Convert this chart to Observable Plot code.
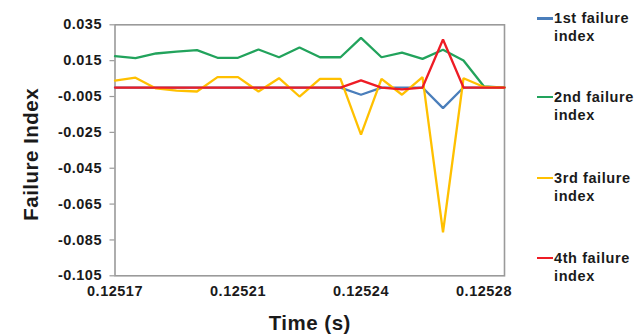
<!DOCTYPE html>
<html>
<head>
<meta charset="utf-8">
<script src="https://cdn.jsdelivr.net/npm/d3@7"></script>
<script src="https://cdn.jsdelivr.net/npm/@observablehq/plot@0.6"></script>
<style>
  html, body { margin: 0; padding: 0; background: #fff; }
  #wrap { position: relative; width: 637px; height: 334px; overflow: hidden; font-family: "Liberation Sans", Arial, sans-serif; }
  #wrap svg text { letter-spacing: 0.5px; }
  .leg { position: absolute; left: 537px; font-size: 14.5px; font-weight: bold; color: #1a1a1a; line-height: 18.4px; letter-spacing: 0.6px; }
  .leg .sw { position: absolute; left: 0; top: 8px; width: 16px; height: 2.5px; }
  .leg .tx { margin-left: 17px; white-space: nowrap; }
</style>
</head>
<body>
<div id="wrap"></div>
<script>
// Time (s) categories
const times = [0.1251700, 0.1251761, 0.1251822, 0.1251883, 0.1251944, 0.1252005, 0.1252066,
  0.1252127, 0.1252188, 0.1252249, 0.1252310, 0.1252371, 0.1252432, 0.1252493, 0.1252554,
  0.1252615, 0.1252676, 0.1252737, 0.1252798, 0.1252859];

const series = ["1st failure index", "2nd failure index", "3rd failure index", "4th failure index"];
const colors = ["#4a7ebb", "#22a35c", "#ffc000", "#ee1c25"];

const idx1 = [0, 0, 0, 0, 0, 0, 0, 0, 0, 0, 0, 0, -0.0040, 0, 0, 0, -0.0115, 0, 0, 0];
const idx2 = [0.0175, 0.0164, 0.0190, 0.0200, 0.0209, 0.0166, 0.0166, 0.0212, 0.0169, 0.0223,
  0.0169, 0.0169, 0.0277, 0.0169, 0.0195, 0.0160, 0.0211, 0.0151, 0.0006, 0];
const idx3 = [0.0039, 0.0055, -0.0005, -0.0017, -0.0022, 0.0058, 0.0058, -0.0022, 0.0052, -0.0050,
  0.0048, 0.0048, -0.0263, 0.0048, -0.0040, 0.0058, -0.0807, 0.0052, 0.0003, 0];
const idx4 = [0, 0, 0, 0, 0, 0, 0, 0, 0, 0, 0, 0, 0.0040, 0, -0.0010, 0, 0.0268, 0, 0, 0];

const yTicks = [-0.105, -0.085, -0.065, -0.045, -0.025, -0.005, 0.015, 0.035];
const xTickLabels = ["0.12517", "0.12521", "0.12524", "0.12528"];
const xTicks = [times[0], times[6], times[12], times[18]];

const allSeries = [idx1, idx2, idx3, idx4];
const data = [];
allSeries.forEach((vals, s) => vals.forEach((v, i) => data.push({t: times[i], v, series: series[s]})));

const fmtY = d => d.toFixed(3);
const fmtX = d => xTickLabels[xTicks.indexOf(d)] ?? d.toFixed(5);

const chart = Plot.plot({
  width: 637,
  height: 334,
  marginLeft: 114.5,
  marginRight: 133,
  marginTop: 24.3,
  marginBottom: 58.7,
  style: {fontFamily: "'Liberation Sans', Arial, sans-serif", background: "transparent", color: "#1a1a1a"},
  x: {type: "linear", domain: [times[0], times[times.length - 1]]},
  y: {domain: [-0.105, 0.035]},
  color: {domain: series, range: colors},
  marks: [
    Plot.frame({stroke: "#9a9a9a", strokeWidth: 1.6}),
    Plot.axisY({ticks: yTicks, tickFormat: fmtY, tickSize: 5, tickPadding: 8, fontSize: 14.5, fontWeight: "bold", label: null, stroke: "#9a9a9a", strokeWidth: 1.2}),
    Plot.axisX({ticks: xTicks, tickFormat: fmtX, tickSize: 0, tickPadding: 10, fontSize: 14.5, fontWeight: "bold", label: null}),
    Plot.line(data, {x: "t", y: "v", z: "series", stroke: "series", strokeWidth: 2.3, strokeLinejoin: "miter"}),
    Plot.text(["Failure Index"], {frameAnchor: "left", textAnchor: "middle", lineAnchor: "middle", dx: -84, dy: 4, rotate: -90, fontSize: 20.5, fontWeight: "bold", fill: "#1a1a1a"}),
    Plot.text(["Time (s)"], {frameAnchor: "bottom", textAnchor: "middle", dy: 48, lineAnchor: "middle", fontSize: 20.5, fontWeight: "bold", fill: "#1a1a1a"})
  ]
});

const wrap = document.getElementById("wrap");
wrap.appendChild(chart);

const legTops = [9, 87.5, 168.5, 248.5];
series.forEach((name, i) => {
  const d = document.createElement("div");
  d.className = "leg";
  d.style.top = legTops[i] + "px";
  const sw = document.createElement("div");
  sw.className = "sw";
  sw.style.background = colors[i];
  const parts = name.split(" ");
  const tx = document.createElement("div");
  tx.className = "tx";
  tx.innerHTML = parts.slice(0, 2).join(" ") + "<br>" + parts.slice(2).join(" ");
  d.appendChild(sw);
  d.appendChild(tx);
  wrap.appendChild(d);
});
</script>
</body>
</html>
